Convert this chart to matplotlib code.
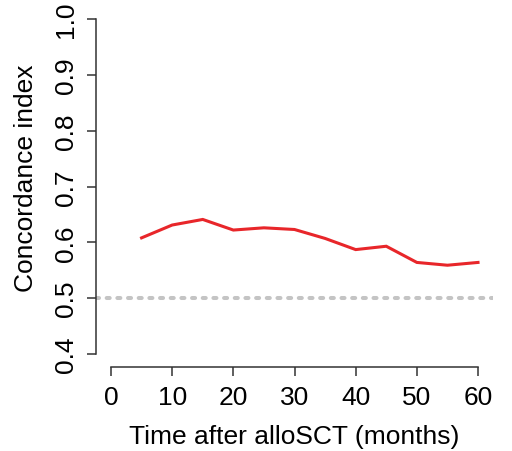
import numpy as np
import matplotlib
matplotlib.use("Agg")
import matplotlib.pyplot as plt

plt.rcParams['font.family'] = ['Liberation Sans', 'DejaVu Sans']

# concordance index over follow-up time
months = [5, 10, 15, 20, 25, 30, 35, 40, 45, 50, 55, 60]
cindex = [0.608, 0.631, 0.641, 0.622, 0.626, 0.623, 0.607, 0.587, 0.593, 0.564, 0.559, 0.564]
xticks = [0, 10, 20, 30, 40, 50, 60]
yticks = [0.4, 0.5, 0.6, 0.7, 0.8, 0.9, 1.0]
ref_level = 0.5

W, H = 512, 452
fig = plt.figure(figsize=(W / 100, H / 100), dpi=100)
ax = fig.add_axes([96.3 / W, 1 - 368.4 / H, 396.4 / W, 361.8 / H])

# R-style plot region (4% padding)
ax.set_xlim(-2.4, 62.4)
ax.set_ylim(0.376, 1.024)

ax.axhline(ref_level, color='#c4c4c4', lw=2.9, dashes=(0.75, 1.9), dash_capstyle='round')
ax.plot(months, cindex, color='#e8262a', lw=2.2, solid_joinstyle='miter')

for s in ['top', 'right']:
    ax.spines[s].set_visible(False)
ax.spines['left'].set_bounds(0.4, 1.0)
ax.spines['bottom'].set_bounds(0, 60)
for s in ['left', 'bottom']:
    ax.spines[s].set_color('#333333')
    ax.spines[s].set_linewidth(1.1)

ax.set_xticks(xticks)
ax.set_xticklabels([str(t) for t in xticks])
ax.set_yticks(yticks)
ax.set_yticklabels(['%.1f' % t for t in yticks])
ax.tick_params(axis='both', length=6.5, width=1.1, color='#333333',
               labelsize=19, direction='out')
ax.tick_params(axis='x', pad=6)
ax.tick_params(axis='y', pad=7)
plt.setp(ax.get_yticklabels(), rotation=90, va='center')

fig.text(294 / W, 1 - 437 / H, 'Time after alloSCT (months)', ha='center', va='center', fontsize=19)
fig.text(26 / W, 1 - 178 / H, 'Concordance index', ha='center', va='center', rotation=90, fontsize=19)

fig.savefig('out.png', dpi=100)
